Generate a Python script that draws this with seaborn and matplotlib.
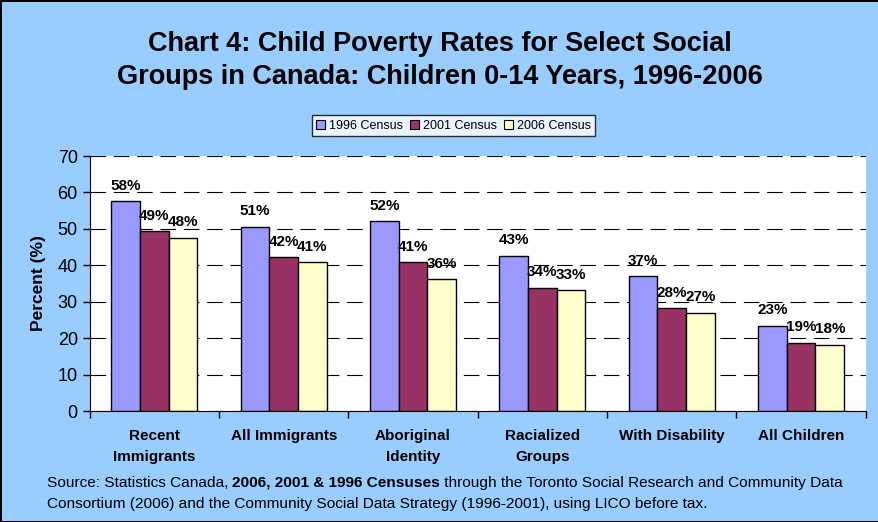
import numpy as np
import pandas as pd
import matplotlib
matplotlib.use("Agg")
import matplotlib.pyplot as plt
import seaborn as sns

# values (percent of children 0-14 in low income)
groups = ["Recent\nImmigrants", "All Immigrants", "Aboriginal\nIdentity",
          "Racialized\nGroups", "With Disability", "All Children"]
census_1996 = [57.6, 50.6, 52.1, 42.7, 37.0, 23.4]
census_2001 = [49.4, 42.3, 40.9, 33.9, 28.3, 18.8]
census_2006 = [47.6, 40.9, 36.2, 33.2, 27.0, 18.2]
series = ["1996 Census", "2001 Census", "2006 Census"]
colors = ["#9999FF", "#993366", "#FFFFCC"]
yticks = [0, 10, 20, 30, 40, 50, 60, 70]

df = pd.DataFrame({
    "group": groups * 3,
    "census": np.repeat(series, len(groups)),
    "rate": census_1996 + census_2001 + census_2006,
})

sns.set_style("white")
plt.rcParams["font.family"] = ["Liberation Sans", "DejaVu Sans"]
plt.rcParams["text.color"] = "black"
plt.rcParams["xtick.color"] = "black"
plt.rcParams["ytick.color"] = "black"
plt.rcParams["axes.labelcolor"] = "black"

fig = plt.figure(figsize=(8.79, 5.22), dpi=100)
fig.patch.set_facecolor("#99CCFF")
fig.patch.set_edgecolor("black")
fig.patch.set_linewidth(2)
ax = fig.add_axes([0.102, 0.2126, 0.883, 0.4884])
ax.set_facecolor("white")

sns.barplot(data=df, x="group", y="rate", hue="census", palette=colors,
            order=groups, hue_order=series, width=0.665, gap=0,
            edgecolor="black", linewidth=1, saturation=1, ax=ax, legend=True)

for cont in ax.containers:
    ax.bar_label(cont, fmt="%.0f%%", padding=6, fontsize=11, fontweight="bold")

ax.set_ylim(0, 70)
ax.set_xlim(-0.5, len(groups) - 0.5)
ax.set_yticks(yticks)
ax.yaxis.grid(True, color="black", linestyle=(0, (14, 7)), linewidth=0.8)
ax.set_axisbelow(True)
ax.tick_params(axis="y", left=True, length=5, width=1, color="black",
               labelsize=13, direction="out")
ax.set_xticks(range(len(groups)))
ax.set_xticklabels(groups, fontsize=11, fontweight="bold", linespacing=1.6)
ax.tick_params(axis="x", length=0, pad=13)
ax.set_xticks(np.arange(-0.5, len(groups)), minor=True)
ax.tick_params(axis="x", which="minor", bottom=True, length=5, width=1, color="black")
for s in ["top", "right"]:
    ax.spines[s].set_visible(False)
ax.spines["left"].set_color("black")
ax.spines["bottom"].set_color("black")
ax.set_xlabel("")
ax.set_ylabel("Percent (%)", fontsize=12.5, fontweight="bold", labelpad=8)

leg = ax.legend(loc="center", bbox_to_anchor=(0.516, 0.759),
                bbox_transform=fig.transFigure, ncol=3, frameon=True,
                fontsize=9, handlelength=0.7, handleheight=0.7,
                handletextpad=0.3, columnspacing=0.6, borderpad=0.35,
                fancybox=False)
leg.get_frame().set_edgecolor("black")
leg.get_frame().set_linewidth(1)
for h in leg.legend_handles:
    h.set_edgecolor("black")
    h.set_linewidth(0.8)

fig.text(0.5, 0.884, "Chart 4: Child Poverty Rates for Select Social\n"
         "Groups in Canada: Children 0-14 Years, 1996-2006",
         ha="center", va="center", fontsize=19.5, fontweight="bold",
         linespacing=1.35)

t1 = fig.text(0.053, 0.062, "Source: Statistics Canada, ", fontsize=11.05,
              ha="left", va="bottom")
t2 = ax.annotate("2006, 2001 & 1996 Censuses", xy=(1, 0), xycoords=t1,
                 ha="left", va="bottom", fontsize=11.05, fontweight="bold",
                 annotation_clip=False)
ax.annotate(" through the Toronto Social Research and Community Data",
            xy=(1, 0), xycoords=t2, ha="left", va="bottom", fontsize=11.05,
            annotation_clip=False)
fig.text(0.053, 0.021, "Consortium (2006) and the Community Social Data Strategy "
         "(1996-2001), using LICO before tax.", fontsize=11.05,
         ha="left", va="bottom")

fig.savefig("out.png", dpi=100, facecolor=fig.get_facecolor(),
            edgecolor=fig.get_edgecolor())
